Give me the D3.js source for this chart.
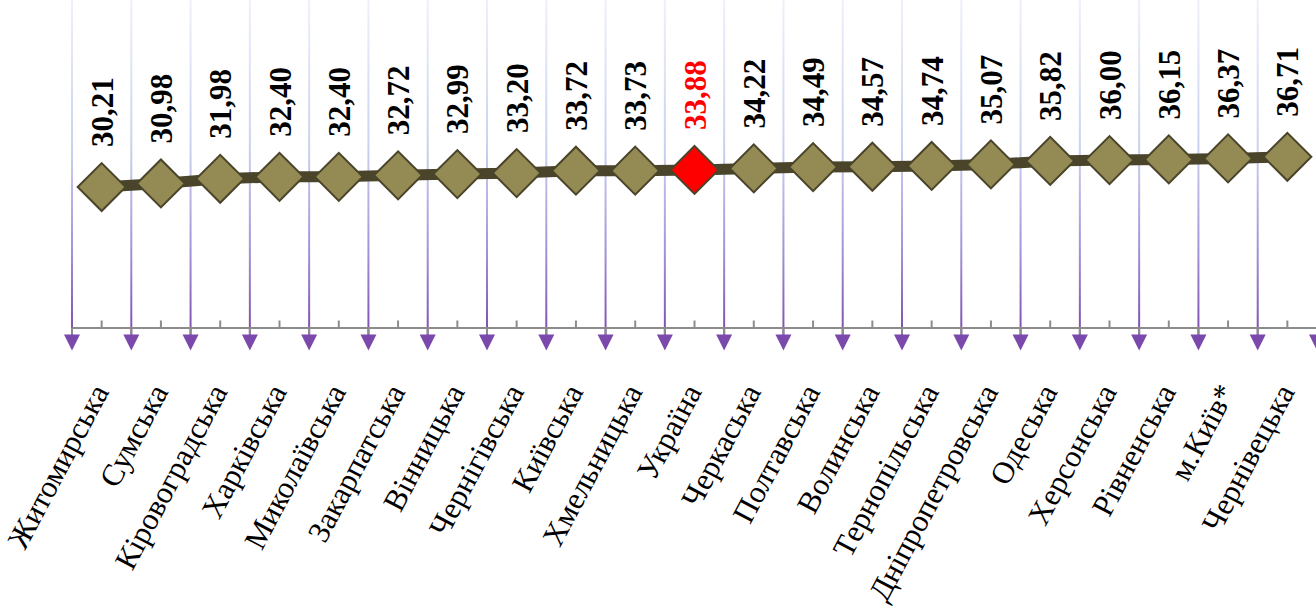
<!DOCTYPE html>
<html lang="uk">
<head>
<meta charset="UTF-8">
<title>Регіони</title>
<script src="https://cdn.jsdelivr.net/npm/d3@7"></script>
<style>
  body { margin: 0; background: #fff; }
  svg { display: block; }
  text { font-family: "Liberation Serif", "Times New Roman", serif; }
</style>
</head>
<body>
<script>
// data
const regions = ["Житомирська", "Сумська", "Кіровоградська", "Харківська", "Миколаївська",
  "Закарпатська", "Вінницька", "Чернігівська", "Київська", "Хмельницька", "Україна",
  "Черкаська", "Полтавська", "Волинська", "Тернопільська", "Дніпропетровська",
  "Одеська", "Херсонська", "Рівненська", "м.Київ*", "Чернівецька"];
const values = [30.21, 30.98, 31.98, 32.40, 32.40, 32.72, 32.99, 33.20, 33.72, 33.73, 33.88,
  34.22, 34.49, 34.57, 34.74, 35.07, 35.82, 36.00, 36.15, 36.37, 36.71];
const highlight = "Україна";

const W = 1316, H = 615;
const axisY = 327.5;

const data = regions.map((r, i) => ({ region: r, value: values[i] }));

const x = d3.scaleBand().domain(regions).range([72, 1317]).padding(0);
const y = d3.scaleLinear().domain([0, 70]).range([axisY, axisY - 70 * 4.65]);
const cx = d => x(d.region) + x.bandwidth() / 2;

const svg = d3.select("body").append("svg")
  .attr("width", W).attr("height", H);

const grad = svg.append("defs").append("linearGradient")
  .attr("id", "gridGrad").attr("gradientUnits", "userSpaceOnUse")
  .attr("x1", 0).attr("y1", 0).attr("x2", 0).attr("y2", 340);
grad.append("stop").attr("offset", 0).attr("stop-color", "#eef1fb");
grad.append("stop").attr("offset", 0.45).attr("stop-color", "#c9cfef");
grad.append("stop").attr("offset", 0.75).attr("stop-color", "#a18fd6");
grad.append("stop").attr("offset", 1).attr("stop-color", "#7b49ac");

// category boundaries (gridlines with arrow ends)
const bounds = regions.map(r => x(r)).concat([x.range()[1]]);

svg.append("g").selectAll("line").data(bounds).join("line")
  .attr("x1", d => d).attr("x2", d => d)
  .attr("y1", 0).attr("y2", axisY + 8)
  .attr("stroke", "url(#gridGrad)").attr("stroke-width", 2);

// axis
const axis = svg.append("g").attr("transform", `translate(0,${axisY})`)
  .call(d3.axisBottom(x).tickSizeInner(-7).tickSizeOuter(0).tickFormat(""));
axis.select(".domain").attr("stroke", "#8c8c8c").attr("stroke-width", 2);
axis.selectAll(".tick line").attr("stroke", "#8c8c8c").attr("stroke-width", 2);

svg.append("g").selectAll("line").data(bounds).join("line")
  .attr("x1", d => d).attr("x2", d => d)
  .attr("y1", axisY).attr("y2", axisY + 7)
  .attr("stroke", "#8c8c8c").attr("stroke-width", 2);

svg.append("g").selectAll("path").data(bounds).join("path")
  .attr("d", d => `M${d - 8},${axisY + 7}L${d + 8},${axisY + 7}L${d},${axisY + 23}Z`)
  .attr("fill", "#7b49ac");

// line
svg.append("path").datum(data)
  .attr("d", d3.line().x(cx).y(d => y(d.value)))
  .attr("fill", "none").attr("stroke", "#4a442a").attr("stroke-width", 11);

// diamonds
svg.append("g").selectAll("path").data(data).join("path")
  .attr("d", d3.symbol().type(d3.symbolSquare).size(1150))
  .attr("transform", d => `translate(${cx(d)},${y(d.value)}) rotate(45)`)
  .attr("fill", d => d.region === highlight ? "#ff0000" : "#948a54")
  .attr("stroke", "#4a442a").attr("stroke-width", 2);

// value labels
svg.append("g").selectAll("text").data(data).join("text")
  .attr("transform", d => `translate(${cx(d) + 11},${y(d.value) - 40}) rotate(-90)`)
  .attr("font-size", 31).attr("font-weight", "bold")
  .attr("fill", d => d.region === highlight ? "#ff0000" : "#000")
  .text(d => d.value.toFixed(2).replace(".", ","));

// category labels
svg.append("g").selectAll("text").data(regions).join("text")
  .attr("transform", d => `translate(${x(d) + x.bandwidth() / 2 + 8},${axisY + 64}) rotate(-62)`)
  .attr("text-anchor", "end")
  .attr("font-size", 31)
  .attr("fill", "#000")
  .text(d => d);
</script>
</body>
</html>
